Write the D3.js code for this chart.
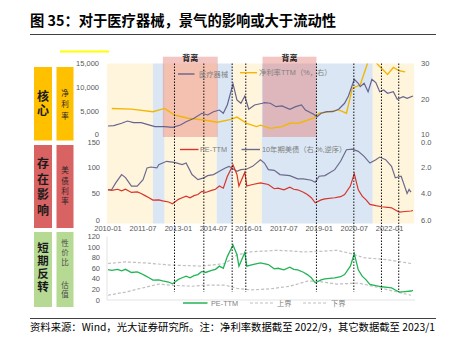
<!DOCTYPE html>
<html><head><meta charset="utf-8">
<script src="https://cdn.jsdelivr.net/npm/d3@7"></script>
<style>body{margin:0;background:#fff}svg{display:block}</style>
</head><body>
<svg id="c" width="454" height="340"></svg>
<script>
// ---------------- data ----------------
const titleText = "图 35：对于医疗器械，景气的影响或大于流动性";
const footnoteText = "资料来源：Wind，光大证券研究所。注：净利率数据截至 2022/9，其它数据截至 2023/1";
const xTickLabels = ["2010-01","2011-07","2013-01","2014-07","2016-01","2017-07","2019-01","2020-07","2022-01"];
const topLeftTicks = [0, 5000, 10000, 15000];
const topRightTicks = [10, 20, 30];
const midLeftTicks = [0, 50, 100, 150];
const midRightTicks = [0, 2, 4, 6];
const botLeftTicks = [0, 20, 40, 60, 80, 100, 120];

const medIndex = [["2010-01",2070],["2010-04",2140],["2010-08",2630],["2010-11",3100],["2011-02",2760],["2011-06",2760],
 ["2011-09",2410],["2012-01",1930],["2012-06",1930],["2012-10",1790],["2013-02",2280],["2013-05",2960],["2013-09",3660],
 ["2014-01",4700],["2014-04",4350],["2014-07",5030],["2014-10",5370],["2014-12",4700],["2015-02",6420],["2015-05",10770],
 ["2015-07",7460],["2015-09",6770],["2015-11",8280],["2016-01",5530],["2016-04",6420],["2016-08",6770],["2016-09",6900],
 ["2016-12",6770],["2017-03",6070],["2017-06",6210],["2017-10",5530],["2018-01",6070],["2018-04",6420],["2018-06",5370],
 ["2018-10",4550],["2018-12",4000],["2019-02",4700],["2019-05",5030],["2019-08",5030],["2019-11",5530],["2020-02",6770],
 ["2020-04",8280],["2020-07",11740],["2020-09",10910],["2020-10",10220],["2020-12",10910],["2021-02",9130],["2021-04",11740],
 ["2021-06",11050],["2021-08",9170],["2021-10",9520],["2021-12",8830],["2022-03",9170],["2022-05",7600],["2022-08",8140],
 ["2022-10",7800],["2023-01",8280]];

const netMargin = [["2010-03",17.6],["2011-01",17.4],["2011-12",16.7],["2012-06",17.6],["2012-11",15.8],["2013-06",14.9],
 ["2014-02",14.4],["2014-09",13.8],["2015-04",14.6],["2015-07",15.2],["2015-12",13.5],["2016-05",12.6],["2016-07",13.0],
 ["2016-12",12.1],["2017-06",12.6],["2017-10",13.5],["2018-03",13.6],["2018-10",14.9],["2019-01",16.3],["2019-06",16.7],
 ["2019-11",17.2],["2020-03",16.3],["2020-06",23.2],["2020-10",24.1],["2021-03",32.0],["2021-08",29.2],["2021-12",27.0],
 ["2022-03",28.9],["2022-06",28.0],["2022-09",27.7]];

const peTTM = [["2010-01",57.6],["2010-03",56],["2010-06",58],["2010-08",55],["2010-10",58],["2011-01",52],["2011-04",53],
 ["2011-06",50],["2011-08",46],["2011-10",42],["2011-12",37.5],["2012-03",38],["2012-05",36],["2012-08",34],["2012-10",30.6],
 ["2013-01",39],["2013-03",42],["2013-05",45],["2013-07",42],["2013-09",46],["2013-11",48],["2014-01",54],["2014-03",52],
 ["2014-06",56],["2014-08",58],["2014-10",64],["2014-12",60],["2015-02",82],["2015-05",104],["2015-07",86],["2015-08",64],
 ["2015-11",90],["2015-12",64],["2016-03",67],["2016-07",70],["2016-11",67],["2017-02",59],["2017-04",60],["2017-07",57],
 ["2017-10",62],["2017-12",58],["2018-02",57],["2018-05",52.5],["2018-07",48],["2018-09",42],["2018-11",32.5],["2019-02",38],
 ["2019-04",40],["2019-09",42],["2019-12",44],["2020-02",48],["2020-05",64],["2020-07",87.5],["2020-09",57],["2020-11",45],
 ["2021-01",38],["2021-03",29.4],["2021-06",27],["2021-09",25],["2021-12",24],["2022-02",23],["2022-04",19],["2022-06",15],
 ["2022-09",16],["2022-12",17],["2023-01",18]];

const ust10y = [["2010-01",3.75],["2010-03",3.7],["2010-05",3.2],["2010-08",2.57],["2010-10",2.8],["2011-01",3.45],
 ["2011-04",3.45],["2011-07",2.95],["2011-09",2.07],["2011-11",2.0],["2012-02",2.07],["2012-03",1.82],["2012-07",1.57],
 ["2012-11",1.65],["2013-03",1.82],["2013-05",1.7],["2013-08",2.57],["2013-11",2.95],["2014-02",2.82],["2014-04",2.65],
 ["2014-07",2.57],["2014-10",2.32],["2015-01",2.07],["2015-03",1.95],["2015-07",2.32],["2015-09",2.2],["2015-12",2.15],
 ["2016-03",1.95],["2016-07",1.45],["2016-09",1.7],["2016-11",2.2],["2017-02",2.25],["2017-05",2.57],["2017-10",2.65],
 ["2018-02",2.9],["2018-05",2.9],["2018-09",3.0],["2018-11",3.15],["2019-01",2.7],["2019-04",2.65],["2019-09",2.2],
 ["2019-12",1.57],["2020-03",0.7],["2020-06",0.65],["2020-09",0.82],["2020-12",1.2],["2021-03",1.7],["2021-06",1.45],
 ["2021-08",1.25],["2021-11",1.45],["2022-02",1.95],["2022-04",2.82],["2022-07",2.7],["2022-10",4.0],["2022-11",3.7],
 ["2022-12",3.9]];

const upperBound = [["2010-01",69],["2010-10",72],["2011-08",70],["2012-09",66],["2014-01",64],["2015-01",69],["2015-07",85],
 ["2016-02",91],["2017-04",94],["2018-05",91],["2019-02",92],["2019-10",94],["2020-05",88],["2020-12",80],["2021-12",76],
 ["2022-12",69]];
const lowerBound = [["2010-01",9],["2010-10",15],["2011-08",24],["2012-03",30],["2012-09",28],["2013-08",26],["2014-02",28],
 ["2015-01",28],["2015-07",22],["2016-02",19],["2016-12",21],["2017-10",26],["2018-07",35.5],["2018-12",35.5],["2019-10",30],
 ["2020-09",32],["2021-07",24],["2022-05",15],["2022-12",9]];

// regime shading: [start, end, kind]
const regimes = [["2009-12-15","2011-12-01","cream"],["2011-12-01","2012-06-01","blue"],["2012-06-01","2014-08-20","cream"],
 ["2014-08-20","2015-04-28","blue"],["2015-04-28","2016-07-22","cream"],["2016-07-22","2021-04-15","blue"],
 ["2021-04-15","2023-01-20","cream"]];
const divergence = [["2012-05-04","2014-09-05"],["2016-08-03","2018-11-20"]];
const divergenceLabel = "背离";
const markerDates = ["2012-11-01","2014-02-01","2015-04-18","2015-11-16","2018-11-20","2020-06-24","2021-08-28","2022-05-24"];

const sideMain = ["核心","存在影响","短期反转"];
const sideSub = [["净利率"],["美债利率"],["性价比","估值"]];

const legendTop = ["医疗器械","净利率TTM（%，右）"];
const legendMid = ["PE-TTM","10年期美债（右,%,逆序）"];
const legendBot = ["PE-TTM","上界","下界"];

// ---------------- drawing ----------------
const parse = s => s.length === 7 ? new Date(+s.slice(0,4), +s.slice(5,7)-1, 1)
                                  : new Date(+s.slice(0,4), +s.slice(5,7)-1, +s.slice(8,10));
const svg = d3.select("#c");
const FONT = "'Liberation Sans','Noto Sans CJK SC',sans-serif";
const CJK = "'Noto Sans CJK SC','Liberation Sans',sans-serif";
const TICK = "#595959";

const x = d3.scaleTime().domain([new Date(2010,0,1), new Date(2023,0,1)]).range([108, 413]);
const xL = 107, xR = 415;

const yIdx = d3.scaleLinear().domain([0,15000]).range([136, 63.5]);
const yNm  = d3.scaleLinear().domain([10,30]).range([136, 63.5]);
const yPE  = d3.scaleLinear().domain([0,150]).range([220, 140.5]);
const yUst = d3.scaleLinear().domain([0,6]).range([140.5, 220]);
const yPE2 = d3.scaleLinear().domain([0,120]).range([300, 236.5]);

// title
svg.append("text").attr("x",30).attr("y",26).attr("font-family",CJK).attr("font-weight","bold")
  .attr("font-size",14.3).attr("fill","#000").text(titleText);
svg.append("line").attr("x1",30).attr("x2",436).attr("y1",34.5).attr("y2",34.5).attr("stroke","#404040").attr("stroke-width",1);

// footer
svg.append("line").attr("x1",30).attr("x2",436).attr("y1",318.5).attr("y2",318.5).attr("stroke","#404040").attr("stroke-width",1);
svg.append("text").attr("x",30).attr("y",330.5).attr("font-family",CJK).attr("font-size",10.5).attr("fill","#000")
  .attr("textLength",405).attr("lengthAdjust","spacingAndGlyphs").text(footnoteText);

// side boxes (vertical text)
const boxColors = ["#FFC000","#D96262","#B6DA94"];
const boxY = [[67,140.5],[145,228],[232,307]];
const mainSize = [12, 12, 11.5];
const mainFirst = [96.7, 163.5, 248];      // centre of first glyph
const mainStep = [13.3, 15.5, 12.8];
const subFirst = [[93.3],[170.5],[242.7,285]];
const subStep = [11.2, 10.3, 9.6];
const vText = (xx, firstCentre, size, step, t, weight, color) => svg.append("text")
  .attr("x",xx).attr("y",firstCentre - size/2).attr("text-anchor","start")
  .style("writing-mode","vertical-rl").style("letter-spacing",(step-size)+"px")
  .attr("font-family",CJK).attr("font-weight",weight).attr("font-size",size).attr("fill",color).text(t);
boxY.forEach((b,i)=>{
  svg.append("rect").attr("x",34).attr("y",b[0]).attr("width",18).attr("height",b[1]-b[0]).attr("fill",boxColors[i]);
  svg.append("rect").attr("x",56.5).attr("y",b[0]).attr("width",17).attr("height",b[1]-b[0]).attr("fill",boxColors[i]);
  vText(43, mainFirst[i], mainSize[i], mainStep[i], sideMain[i], "bold", "#1a1a1a");
  sideSub[i].forEach((t,j)=> vText(65, subFirst[i][j], 7.5, subStep[i], t, "normal", i===2?"#4d4d4d":"#262626"));
});
svg.append("line").attr("x1",60).attr("x2",109).attr("y1",51.5).attr("y2",51.5).attr("stroke","#FFFF00").attr("stroke-width",2);

// regime bands
const bandColor = {cream:"#FFF5DC", blue:"#DAE6F3"};
svg.append("g").selectAll("rect").data(regimes).join("rect")
  .attr("x",d=>x(parse(d[0]))).attr("width",d=>x(parse(d[1]))-x(parse(d[0])))
  .attr("y",63.5).attr("height",223.5-63.5).attr("fill",d=>bandColor[d[2]]);

// divergence rects
svg.append("g").selectAll("rect").data(divergence).join("rect")
  .attr("x",d=>x(parse(d[0]))).attr("width",d=>x(parse(d[1]))-x(parse(d[0])))
  .attr("y",56.7).attr("height",137-56.7).attr("fill","rgba(228,118,112,0.42)");
svg.append("g").selectAll("text").data(divergence).join("text")
  .attr("x",d=>(x(parse(d[0]))+x(parse(d[1])))/2).attr("y",61.3).attr("text-anchor","middle")
  .attr("font-family",CJK).attr("font-weight","bold").attr("font-size",8).attr("fill","#222").text(divergenceLabel);

// bottom panel frame
svg.append("line").attr("x1",xL).attr("x2",xL).attr("y1",236.5).attr("y2",300).attr("stroke","#e3e3e3");
svg.append("line").attr("x1",xL).attr("x2",xR).attr("y1",300).attr("y2",300).attr("stroke","#e3e3e3");

// clip paths
const defs = svg.append("defs");
defs.append("clipPath").attr("id","clipTop").append("rect").attr("x",xL).attr("y",63.5).attr("width",xR-xL).attr("height",74);
defs.append("clipPath").attr("id","clipMid").append("rect").attr("x",xL).attr("y",138).attr("width",xR-xL).attr("height",84);

const lineOf = (ys) => d3.line().x(d=>x(parse(d[0]))).y(d=>ys(d[1]));

const gTop = svg.append("g").attr("clip-path","url(#clipTop)");
gTop.append("path").attr("d",lineOf(yNm)(netMargin)).attr("fill","none").attr("stroke","#F2B705").attr("stroke-width",1.4);
gTop.append("path").attr("d",lineOf(yIdx)(medIndex)).attr("fill","none").attr("stroke","#66648E").attr("stroke-width",1.2);

const gMid = svg.append("g").attr("clip-path","url(#clipMid)");
gMid.append("path").attr("d",lineOf(yUst)(ust10y)).attr("fill","none").attr("stroke","#6C6A8C").attr("stroke-width",1.2);
gMid.append("path").attr("d",lineOf(yPE)(peTTM)).attr("fill","none").attr("stroke","#D7342A").attr("stroke-width",1.2);

const gBot = svg.append("g");
gBot.append("path").attr("d",lineOf(yPE2)(upperBound)).attr("fill","none").attr("stroke","#BFBFBF").attr("stroke-width",1.2).attr("stroke-dasharray","3,2");
gBot.append("path").attr("d",lineOf(yPE2)(lowerBound)).attr("fill","none").attr("stroke","#BFBFBF").attr("stroke-width",1.2).attr("stroke-dasharray","3,2");
gBot.append("path").attr("d",lineOf(yPE2)(peTTM)).attr("fill","none").attr("stroke","#22B455").attr("stroke-width",1.3);

svg.append("g").selectAll("line").data(markerDates).join("line")
  .attr("x1",d=>x(parse(d))).attr("x2",d=>x(parse(d))).attr("y1",63.5).attr("y2",292)
  .attr("stroke","#111").attr("stroke-width",1).attr("stroke-dasharray","1.5,1.5");

// axis labels (small nudges where panels meet)
const tickText = (g, xx, yy, t, anchor) => g.append("text").attr("x",xx).attr("y",yy+2.6).attr("text-anchor",anchor)
  .attr("font-family",FONT).attr("font-size",7.5).attr("fill",TICK).text(t);
const gAx = svg.append("g");
topLeftTicks.forEach(v=>tickText(gAx,99,yIdx(v)-(v===0?2:0),d3.format(",")(v),"end"));
topRightTicks.forEach(v=>tickText(gAx,421,yNm(v)-(v===10?2:0),v,"start"));
midLeftTicks.forEach(v=>tickText(gAx,100,yPE(v)+(v===150?1.5:0),v,"end"));
midRightTicks.forEach(v=>tickText(gAx,421,yUst(v)+(v===0?1.5:0),d3.format(".1f")(v),"start"));
botLeftTicks.forEach(v=>tickText(gAx,100,yPE2(v),v,"end"));
xTickLabels.forEach(s=>tickText(gAx,x(parse(s)),228.5,s,"middle"));

// legends
const legText = (xx,yy,t)=>svg.append("text").attr("x",xx).attr("y",yy+2.6).attr("font-family",FONT)
  .attr("font-size",7.3).attr("fill","#7f7f7f").text(t);
const legLine = (x1,x2,yy,c,dash,w)=>svg.append("line").attr("x1",x1).attr("x2",x2).attr("y1",yy).attr("y2",yy)
  .attr("stroke",c).attr("stroke-width",w||1.4).attr("stroke-dasharray",dash||null);
legLine(178,194.5,74,"#66648E"); legText(199,74,legendTop[0]);
legLine(240,257,72.7,"#F2B705"); legText(259,72.7,legendTop[1]);
legLine(180,198.5,149.5,"#D7342A"); legText(200,149.5,legendMid[0]);
legLine(241.5,260,149.5,"#6C6A8C"); legText(262,149.5,legendMid[1]);
legLine(183,207.5,303,"#22B455",null,1.5); legText(211,303,legendBot[0]);
legLine(250,273,303,"#BFBFBF","3,2",1.2); legText(277,303,legendBot[1]);
legLine(303,326,303,"#BFBFBF","3,2",1.2); legText(331,303,legendBot[2]);
</script>
</body></html>
